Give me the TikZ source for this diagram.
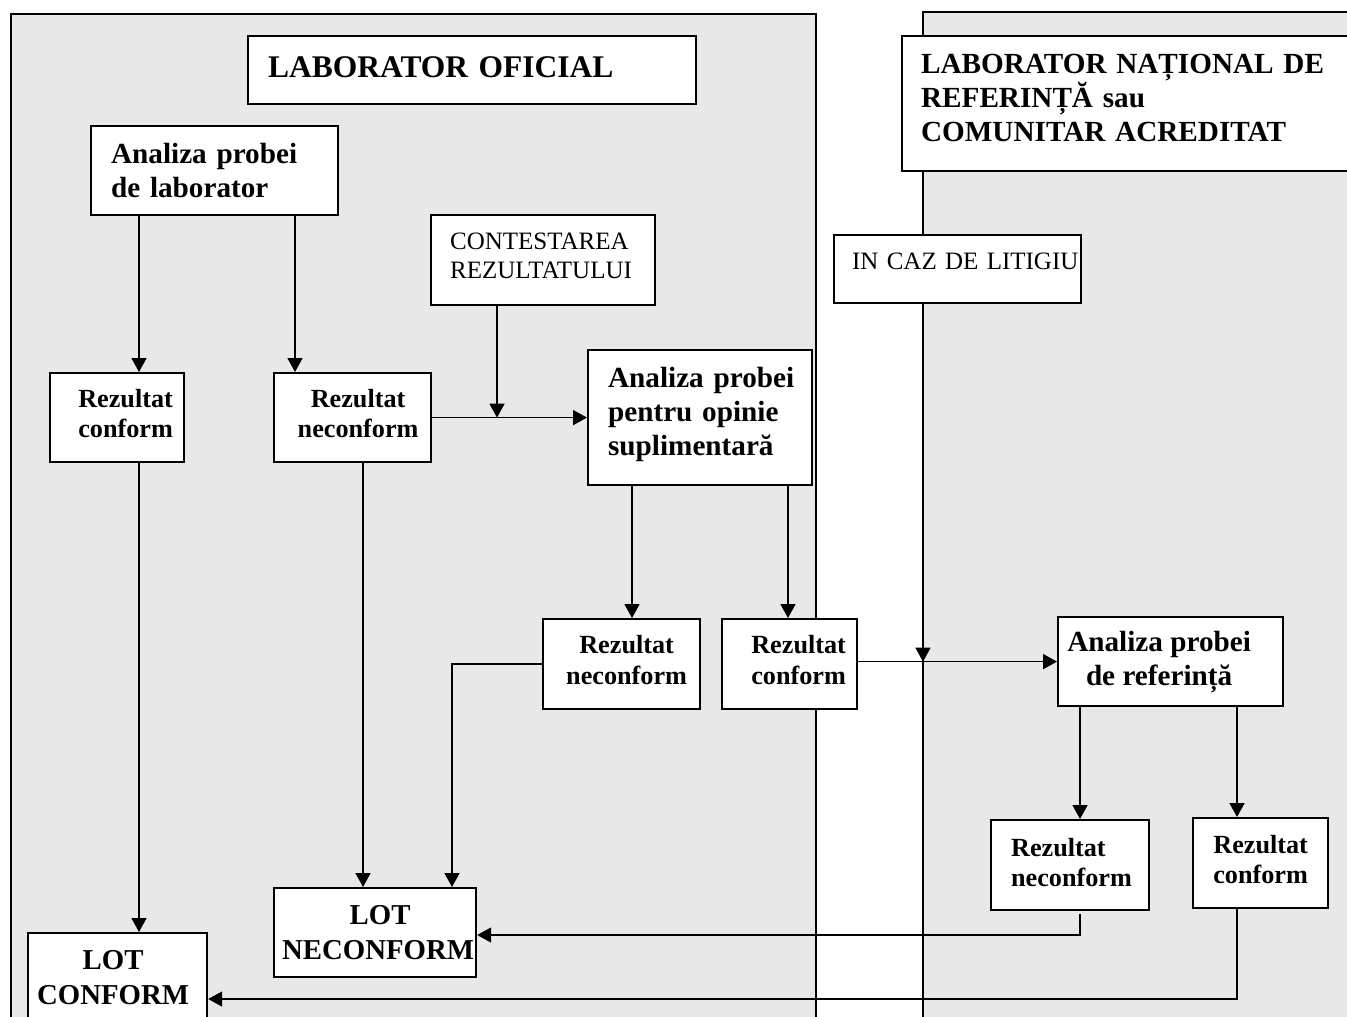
\documentclass[tikz,border=0pt]{standalone}
\usepackage{fontspec}
\setmainfont{Liberation Serif}
\usetikzlibrary{arrows.meta,calc}
\definecolor{panelgray}{RGB}{232,232,232}
\begin{document}
\begin{tikzpicture}[x=0.5pt,y=-0.5pt,
  box/.style={draw, fill=white, line width=1.1pt, anchor=north west, inner sep=0pt},
  conn/.style={line width=0.85pt},
  arr/.style={conn, -{Triangle[length=7pt,width=7.5pt]}},
  pline/.style={line width=1pt},
  fbig/.style={font=\fontsize{15.75}{18}\selectfont\bfseries},
  fhead/.style={font=\fontsize{14.6}{17}\selectfont\bfseries},
  fres/.style={font=\fontsize{13.1}{15.2}\selectfont\bfseries},
  fnorm/.style={font=\fontsize{12.5}{14.5}\selectfont},
  flot/.style={font=\fontsize{14.4}{17.5}\selectfont\bfseries}]
\useasboundingbox (0,0) rectangle (1347,1016);
\clip (0,0) rectangle (1347,1016);
% panels
\fill[panelgray] (11,14) rectangle (816,1030);
\draw[pline] (11,1030) -- (11,14) -- (816,14) -- (816,1030);
\fill[panelgray] (923,12) rectangle (1360,1030);
\draw[pline] (923,1030) -- (923,12) -- (1360,12);
% guide coordinates
\coordinate (xa) at (139,0);
\coordinate (xb) at (295,0);
\coordinate (xc) at (363,0);
\coordinate (xd) at (497,0);
\coordinate (xe) at (632,0);
\coordinate (xf) at (788,0);
\coordinate (xg) at (452,0);
\coordinate (xh) at (923,0);
\coordinate (xi) at (1080,0);
\coordinate (xj) at (1237,0);
\coordinate (yr) at (0,914);
\coordinate (yn) at (0,935);
\coordinate (yc) at (0,999);
% boxes
\node[box, fbig, align=left, text width=224pt, minimum height=34pt] (titleL) at (247,35)
  {\hspace*{10pt}LABORATOR OFICIAL\rule[-2.6pt]{0pt}{0pt}};
\node[box, fhead, align=left, text width=229.5pt, minimum height=67.5pt] (titleR) at (901,35)
  {\hspace*{9.5pt}LABORATOR NAȚIONAL DE\\\hspace*{9.5pt}REFERINȚĂ sau\\\hspace*{9.5pt}COMUNITAR ACREDITAT\rule[-6pt]{0pt}{0pt}};
\node[box, fhead, align=left, text width=123.5pt, minimum height=44.5pt] (anaLab) at (90,125)
  {\hspace*{10pt}Analiza probei\\\hspace*{10pt}de laborator};
\node[box, fnorm, align=left, text width=112pt, minimum height=45pt] (cont) at (430,214)
  {\hspace*{9.5pt}CONTESTAREA\\\hspace*{9.5pt}REZULTATULUI\rule[-4.6pt]{0pt}{0pt}};
\node[box, fnorm, align=left, text width=123.5pt, minimum height=34pt] (lit) at (833,234)
  {\hspace*{9pt}IN CAZ DE LITIGIU\rule[-8pt]{0pt}{0pt}};
\node[box, fres, align=center, minimum width=67pt, minimum height=44.5pt] (rc1) at (49,372)
  {\mbox{\hspace{8.5pt}Rezultat}\\\mbox{\hspace{8.5pt}conform}\rule[-4pt]{0pt}{0pt}};
\node[box, fres, align=center, minimum width=78.5pt, minimum height=44.5pt] (rn1) at (273,372)
  {\mbox{\hspace{5.5pt}Rezultat}\\\mbox{\hspace{5.5pt}neconform}\rule[-4pt]{0pt}{0pt}};
\node[box, fhead, align=left, text width=112pt, minimum height=67.5pt] (anaOp) at (587,349)
  {\hspace*{10pt}Analiza probei\\\hspace*{10pt}pentru opinie\\\hspace*{10pt}suplimentară\rule[-6.3pt]{0pt}{0pt}};
\node[box, fres, align=center, minimum width=78.5pt, minimum height=45pt] (rn2) at (542,618)
  {\mbox{\hspace{5pt}Rezultat}\\\mbox{\hspace{5pt}neconform}\rule[-4pt]{0pt}{0pt}};
\node[box, fres, align=center, minimum width=67.5pt, minimum height=45pt] (rc2) at (721,618)
  {\mbox{\hspace{9pt}Rezultat}\\\mbox{\hspace{9pt}conform}\rule[-4pt]{0pt}{0pt}};
\node[box, fhead, align=center, minimum width=112.5pt, minimum height=44.5pt] (anaRef) at (1057,616)
  {\mbox{Analiza probei\hspace{11.5pt}}\\\mbox{de referință\hspace{11.5pt}}};
\node[box, fres, align=left, text width=79pt, minimum height=45pt] (rn3) at (990,819)
  {\hspace*{10pt}Rezultat\\\hspace*{10pt}neconform\rule[-3pt]{0pt}{0pt}};
\node[box, fres, align=center, minimum width=67.5pt, minimum height=45pt] (rc3) at (1192,817)
  {Rezultat\\conform\rule[-4pt]{0pt}{0pt}};
\node[box, flot, align=center, minimum width=101pt, minimum height=44.5pt] (lotN) at (273,887)
  {\mbox{\hspace{5pt}LOT}\\\mbox{\hspace{3pt}NECONFORM}};
\node[box, flot, align=center, minimum width=89.5pt, minimum height=44pt] (lotC) at (27,932)
  {\mbox{LOT\hspace{4.5pt}}\\\mbox{CONFORM\hspace{4.5pt}}};
% connectors
\draw[arr] (anaLab.south -| xa) -- (rc1.north -| xa);
\draw[arr] (anaLab.south -| xb) -- (rn1.north -| xb);
\draw[arr] (rc1.south -| xa) -- (lotC.north -| xa);
\draw[arr] (rn1.south -| xc) -- (lotN.north -| xc);
\draw[arr] (rn1.east) -- (anaOp.west);
\draw[arr] (cont.south -| xd) -- (xd |- rn1.east);
\draw[arr] (anaOp.south -| xe) -- (rn2.north -| xe);
\draw[arr] (anaOp.south -| xf) -- (rc2.north -| xf);
\draw[arr] (rn2.west) -| (lotN.north -| xg);
\draw[arr] (rc2.east |- anaRef.west) -- (anaRef.west);
\draw[arr] (lit.south -| xh) -- (xh |- anaRef.west);
\draw[arr] (anaRef.south -| xi) -- (rn3.north -| xi);
\draw[arr] (anaRef.south -| xj) -- (rc3.north -| xj);
\draw[arr] (xi |- yr) |- (lotN.east |- yn);
\draw[arr] (rc3.south -| xj) |- (lotC.east |- yc);
\end{tikzpicture}
\end{document}
